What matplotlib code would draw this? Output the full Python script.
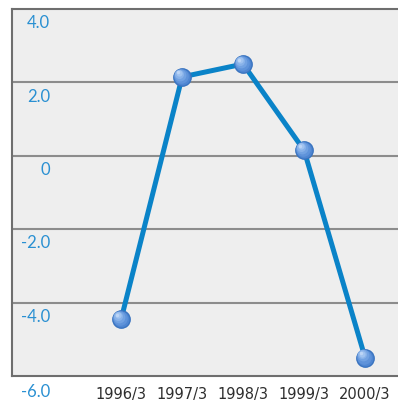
import matplotlib
matplotlib.use("Agg")
import matplotlib.pyplot as plt
from matplotlib import transforms

periods = ["1996/3", "1997/3", "1998/3", "1999/3", "2000/3"]
values = [-4.45, 2.15, 2.5, 0.15, -5.5]
y_ticks = [4.0, 2.0, 0, -2.0, -4.0, -6.0]
y_tick_labels = ["4.0", "2.0", "0", "-2.0", "-4.0", "-6.0"]

fig = plt.figure(figsize=(3.98, 4.06), dpi=100)
ax = fig.add_axes([12 / 398, 29 / 406, 386 / 398, 367 / 406])
ax.set_facecolor("#eeeeee")

ax.set_xlim(-1.79, 4.54)
ax.set_ylim(-6.0, 4.0)

# horizontal grid lines
for v in y_ticks[1:-1]:
    ax.axhline(v, color="#8c8c8c", lw=1.5, zorder=1)

for side in ("left", "bottom", "top"):
    ax.spines[side].set_color("#6e6e6e")
    ax.spines[side].set_linewidth(1.5)
ax.spines["right"].set_visible(False)

ax.set_xticks(range(len(periods)))
ax.set_xticklabels(periods, fontfamily="Liberation Sans Narrow", fontsize=10.5,
                   color="#2e2e2e")
ax.tick_params(axis="x", length=0, pad=7)
ax.set_yticks([])

# y labels sit just under each grid line, inside the plot
tr = transforms.blended_transform_factory(ax.transAxes, ax.transData)
for v, lab in zip(y_ticks, y_tick_labels):
    ax.text(38 / 386, v - 0.36 if v > -6 else v - 0.41, lab, transform=tr,
            ha="right", va="center", fontsize=12, color="#2a90d2",
            fontfamily="Lato", clip_on=False)

x = list(range(len(values)))
ax.plot(x, values, color="#0a83c8", lw=3.6, zorder=3, solid_capstyle="round")

# shaded spheres: stacked discs getting lighter towards the upper left
ax.plot(x, values, ls="none", marker="o", ms=12.5, mfc="#4f86d2", mec="#3a74c0",
        mew=1.0, zorder=4)
shades = [(10.5, "#5f93da", 0.015, 0.03), (8.5, "#72a2e2", 0.03, 0.06),
          (6.5, "#88b2e9", 0.045, 0.09), (4.5, "#a0c3f0", 0.055, 0.11),
          (2.5, "#bcd5f6", 0.06, 0.12)]
for ms, col, dx, dy in shades:
    ax.plot([i - dx for i in x], [v + dy for v in values], ls="none",
            marker="o", ms=ms, mfc=col, mec="none", zorder=5)

fig.savefig("out.png", dpi=100, facecolor="white")
